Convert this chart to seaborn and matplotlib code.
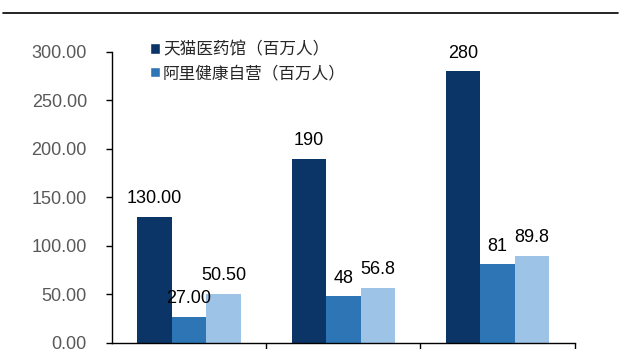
import pandas as pd
import matplotlib.pyplot as plt
import matplotlib.patches as patches
from matplotlib.lines import Line2D
import seaborn as sns

# --- 数据 ---
categories = ["组1", "组2", "组3"]
series_names = ["天猫医药馆（百万人）", "阿里健康自营（百万人）", "其他"]
tmall_values = [130.00, 190, 280]
ali_values = [27.00, 48, 81]
third_values = [50.50, 56.8, 89.8]
tmall_labels = ["130.00", "190", "280"]
ali_labels = ["27.00", "48", "81"]
third_labels = ["50.50", "56.8", "89.8"]
y_ticks = [0, 50, 100, 150, 200, 250, 300]

COLORS = ["#0B3467", "#2E75B6", "#9DC3E6"]

df = pd.DataFrame({
    "cat": categories * 3,
    "series": [series_names[0]] * 3 + [series_names[1]] * 3 + [series_names[2]] * 3,
    "value": tmall_values + ali_values + third_values,
})

sns.set_theme(style="white")
plt.rcParams['font.family'] = ['Liberation Sans', 'Noto Sans CJK SC']

fig = plt.figure(figsize=(6.4, 3.49), dpi=100)
ax = fig.add_axes([0.175, 0.0172, 0.723, 0.834])

sns.barplot(data=df, x="cat", y="value", hue="series", order=categories,
            hue_order=series_names, palette=COLORS, width=0.67, gap=0,
            saturation=1, legend=False, linewidth=0, ax=ax)

for cont, labs in zip(ax.containers, [tmall_labels, ali_labels, third_labels]):
    ax.bar_label(cont, labels=labs, padding=7, fontsize=13, color='black')

# --- 坐标轴格式 ---
ax.set_ylim(0, 300)
ax.set_xlim(-0.5, 2.5)
ax.set_yticks(y_ticks)
ax.set_yticklabels([f"{v:.2f}" for v in y_ticks])
ax.set_xticks([])
ax.set_xticks([0.5, 1.5, 2.5], minor=True)
ax.set_xlabel(None)
ax.set_ylabel(None)

ax.spines['top'].set_visible(False)
ax.spines['right'].set_visible(False)
for s in ['left', 'bottom']:
    ax.spines[s].set_color('black')
    ax.spines[s].set_linewidth(1.0)

ax.tick_params(axis='y', which='major', direction='out', length=4, width=1,
               color='black', labelsize=13, labelcolor='#595959', pad=14, left=True)
ax.tick_params(axis='x', which='minor', direction='out', length=8, width=1,
               color='black', bottom=True)

# --- 图例 ---
handles = [patches.Patch(facecolor=COLORS[0]), patches.Patch(facecolor=COLORS[1])]
fig.legend(handles, series_names[:2], loc='upper left',
           bbox_to_anchor=(0.222, 0.905), frameon=False, borderpad=0,
           handlelength=0.6, handleheight=0.6, handletextpad=0.15,
           labelspacing=0.45, fontsize=12, labelcolor='#262626')

# 顶部标题下的分隔线
fig.add_artist(Line2D([3 / 640, 618 / 640], [1 - 12.5 / 349] * 2,
                      color='black', linewidth=1.2))

fig.savefig("out.png", dpi=100)
